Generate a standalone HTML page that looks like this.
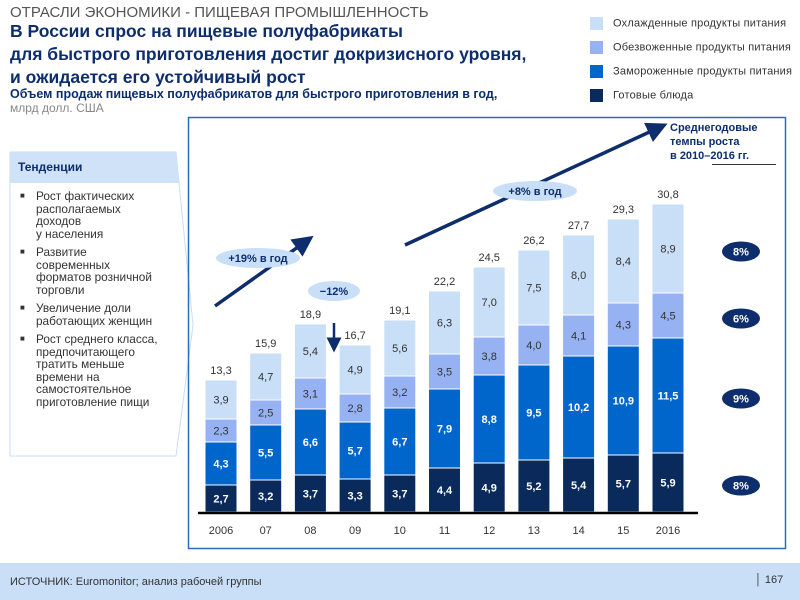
<!DOCTYPE html>
<html><head><meta charset="utf-8">
<style>
body{margin:0;width:800px;height:600px;background:#fff;position:relative;overflow:hidden;font-family:"Liberation Sans","DejaVu Sans",sans-serif;}
.abs{position:absolute;white-space:nowrap;}
</style></head>
<body>
<div class="abs" style="left:10px;top:4px;font-size:15px;color:#555;">ОТРАСЛИ ЭКОНОМИКИ - ПИЩЕВАЯ ПРОМЫШЛЕННОСТЬ</div>
<div class="abs" style="left:10px;top:20px;font-size:17.5px;font-weight:bold;color:#0d2d6c;line-height:23px;">В России спрос на пищевые полуфабрикаты<br>для быстрого приготовления достиг докризисного уровня,<br>и ожидается его устойчивый рост</div>
<div class="abs" style="left:10px;top:87px;font-size:12.5px;font-weight:bold;color:#0d2d6c;">Объем продаж пищевых полуфабрикатов для быстрого приготовления в год,</div>
<div class="abs" style="left:10px;top:101px;font-size:12px;color:#888;">млрд долл. США</div>

<div>
<div class="abs" style="left:590px;top:17px;font-size:11px;color:#333;letter-spacing:0.2px;"><span style="display:inline-block;width:13px;height:13px;background:#c9def7;vertical-align:middle;margin-right:10px"></span>Охлажденные продукты питания</div>
<div class="abs" style="left:590px;top:41px;font-size:11px;color:#333;letter-spacing:0.2px;"><span style="display:inline-block;width:13px;height:13px;background:#97b2f2;vertical-align:middle;margin-right:10px"></span>Обезвоженные продукты питания</div>
<div class="abs" style="left:590px;top:65px;font-size:11px;color:#333;letter-spacing:0.2px;"><span style="display:inline-block;width:13px;height:13px;background:#0066cc;vertical-align:middle;margin-right:10px"></span>Замороженные продукты питания</div>
<div class="abs" style="left:590px;top:89px;font-size:11px;color:#333;letter-spacing:0.2px;"><span style="display:inline-block;width:13px;height:13px;background:#0a2a5c;vertical-align:middle;margin-right:10px"></span>Готовые блюда</div>
</div>

<svg class="abs" style="left:0;top:0" width="800" height="600">
<polygon points="10,152 176,152 193,325 176,456 10,456" fill="#fff" stroke="#c9def7" stroke-width="1"/>
<polygon points="10,152 176,152 179,183 10,183" fill="#cfe2f8"/>
</svg>
<div class="abs" style="left:18px;top:160px;font-size:12px;font-weight:bold;color:#0d2d6c;">Тенденции</div>
<div class="abs" style="left:20px;top:190px;font-size:11.8px;color:#333;line-height:12.5px;white-space:normal;width:160px;">
<div style="display:flex;margin-bottom:6px"><span style="width:16px;font-size:8px">■</span><span>Рост фактических<br>располагаемых<br>доходов<br>у населения</span></div>
<div style="display:flex;margin-bottom:6px"><span style="width:16px;font-size:8px">■</span><span>Развитие<br>современных<br>форматов розничной<br>торговли</span></div>
<div style="display:flex;margin-bottom:6px"><span style="width:16px;font-size:8px">■</span><span>Увеличение доли<br>работающих женщин</span></div>
<div style="display:flex"><span style="width:16px;font-size:8px">■</span><span>Рост среднего класса,<br>предпочитающего<br>тратить меньше<br>времени на<br>самостоятельное<br>приготовление пищи</span></div>
</div>

<svg id="chart" class="abs" style="left:0;top:0" width="800" height="600"></svg>

<div class="abs" style="left:0;top:563px;width:800px;height:37px;background:#c9def7;"></div>
<div class="abs" style="left:10px;top:576px;font-size:11px;color:#333;">ИСТОЧНИК: Euromonitor; анализ рабочей группы</div>
<div class="abs" style="left:755px;top:574px;font-size:11px;color:#333;">│ 167</div>

<script>
const years=["2006","07","08","09","10","11","12","13","14","15","2016"];
const ready=[2.7,3.2,3.7,3.3,3.7,4.4,4.9,5.2,5.4,5.7,5.9];
const frozen=[4.3,5.5,6.6,5.7,6.7,7.9,8.8,9.5,10.2,10.9,11.5];
const dried=[2.3,2.5,3.1,2.8,3.2,3.5,3.8,4.0,4.1,4.3,4.5];
const chilled=[3.9,4.7,5.4,4.9,5.6,6.3,7.0,7.5,8.0,8.4,8.9];
const totals=["13,3","15,9","18,9","16,7","19,1","22,2","24,5","26,2","27,7","29,3","30,8"];
const cagrLabels=["8%","6%","9%","8%"];

const NS="http://www.w3.org/2000/svg";
const svg=document.getElementById('chart');
const base=512, unit=10, x0=221, pitch=44.7, bw=32;
const y=v=>base-v*unit;
const x=i=>x0+i*pitch;
function mk(t,a,p){const e=document.createElementNS(NS,t);for(const k in a)e.setAttribute(k,a[k]);(p||svg).appendChild(e);return e;}
function txt(s,xx,yy,a){const e=mk('text',Object.assign({x:xx,y:yy,'text-anchor':'middle','font-family':'Liberation Sans, sans-serif','font-size':11},a||{}));e.textContent=s;return e;}

const fr=mk('rect',{x:188.5,y:117.5,width:597,height:431,fill:'none',stroke:'#2a6cc0','stroke-width':1.5});



const series=[[ready,'#0a2a5c','#fff','bold'],[frozen,'#0066cc','#fff','bold'],[dried,'#97b2f2','#333','normal'],[chilled,'#c9def7','#333','normal']];
const names=['ready','frozen','dried','chilled'];
years.forEach((yr,i)=>{
  let cum=0;
  series.forEach((s,si)=>{
    const v=s[0][i];
    const r=mk('rect',{x:x(i)-bw/2,y:y(cum+v),width:bw,height:v*unit,fill:s[1],stroke:'#fff','stroke-width':1});
    
    
    const t=txt(String(v.toFixed(1)).replace('.',','),x(i),y(cum+v/2)+4,{fill:s[2],'font-weight':s[3]});
    
    
    cum+=v;
  });
  const tt=txt(totals[i],x(i),y(cum)-6,{fill:'#333'});
  
  
  const yl=txt(yr,x(i),base+22,{fill:'#333'});
  
  
});
const ax=mk('line',{x1:198,x2:698,y1:base+1,y2:base+1,stroke:'#000','stroke-width':2.5});



mk('defs',{}).innerHTML='<marker id="ah" markerWidth="6" markerHeight="6" refX="3" refY="3" orient="auto"><path d="M0,0 L6,3 L0,6 z" fill="#0d2d6c"/></marker>';
const a1=mk('line',{x1:215,y1:306,x2:305,y2:242,stroke:'#0d2d6c','stroke-width':3.5,'marker-end':'url(#ah)'});


const a2=mk('line',{x1:405,y1:245,x2:658,y2:128,stroke:'#0d2d6c','stroke-width':3.5,'marker-end':'url(#ah)'});


const a3=mk('line',{x1:334,y1:323,x2:334,y2:345,stroke:'#0d2d6c','stroke-width':2.5,'marker-end':'url(#ah)'});



function pill(s,cx,cy,rx,name){const g=mk('g',{});
mk('ellipse',{cx:cx,cy:cy,rx:rx,ry:10,fill:'#c9def7'},g);const t=txt(s,cx,cy+4,{fill:'#0d2d6c','font-weight':'bold'});g.appendChild(t);}
pill('+19% в год',258,258,42,'pill-19pct');
pill('−12%',334,291,26,'pill-minus12');
pill('+8% в год',535,191,42,'pill-8pct');

const h=txt('Среднегодовые',670,131,{'text-anchor':'start','font-weight':'bold',fill:'#0d2d6c'});


txt('темпы роста',670,145,{'text-anchor':'start','font-weight':'bold',fill:'#0d2d6c'});
txt('в 2010–2016 гг.',670,159,{'text-anchor':'start','font-weight':'bold',fill:'#0d2d6c'});
mk('line',{x1:712,x2:776,y1:164.5,y2:164.5,stroke:'#333','stroke-width':1});

const badgeY=[y(ready[10]+frozen[10]+dried[10]+chilled[10]/2),y(ready[10]+frozen[10]+dried[10]/2),y(ready[10]+frozen[10]/2),y(ready[10]/2)];
cagrLabels.forEach((c,k)=>{
  const g=mk('g',{});
  
  
  mk('ellipse',{cx:741,cy:badgeY[k]+3,rx:19,ry:10,fill:'#0d2d6c'},g);
  g.appendChild(txt(c,741,badgeY[k]+7,{fill:'#fff','font-weight':'bold'}));
});
</script>
</body></html>
